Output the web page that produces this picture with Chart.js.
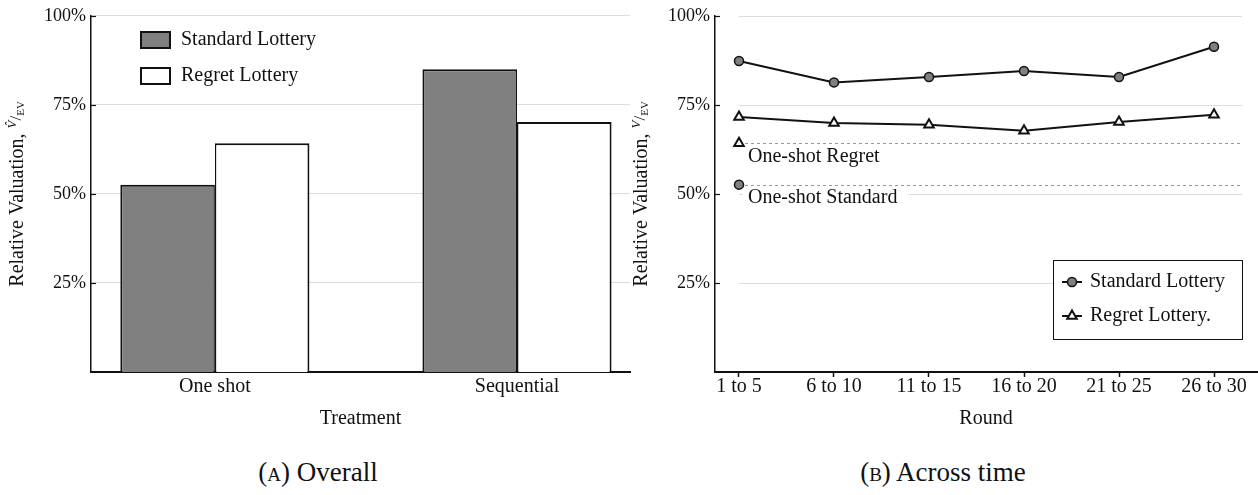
<!DOCTYPE html>
<html>
<head>
<meta charset="utf-8">
<script src="https://cdn.jsdelivr.net/npm/chart.js@4.4.0/dist/chart.umd.min.js"></script>
<style>
  body { margin: 0; background: #fff; width: 1258px; height: 495px; position: relative; overflow: hidden; font-family: "Liberation Serif", "Times New Roman", serif; color: #111; }
  .box { position: absolute; top: 0; height: 440px; }
  #leftBox { left: 0; width: 632px; }
  #rightBox { left: 632px; width: 626px; }
  .cap { position: absolute; top: 458px; font-size: 27px; line-height: 29px; white-space: nowrap; transform: translateX(-50%); }
  .sc { font-variant: small-caps; }
</style>
</head>
<body>
<div id="leftBox" class="box"><canvas id="overallChart"></canvas></div>
<div id="rightBox" class="box"><canvas id="timeChart"></canvas></div>
<div class="cap" style="left:318px"><span class="sc">(a)</span> Overall</div>
<div class="cap" style="left:943px"><span class="sc">(b)</span> Across time</div>
<script>
// data (percent of expected value)
const treatments = ["One shot", "Sequential"];
const overallStandard = [52.6, 85.0];
const overallRegret = [64.2, 70.2];

const rounds = ["1 to 5", "6 to 10", "11 to 15", "16 to 20", "21 to 25", "26 to 30"];
const roundStandard = [87.3, 81.3, 82.8, 84.5, 82.8, 91.3];
const roundRegret = [71.6, 69.9, 69.4, 67.7, 70.2, 72.2];
const oneShotStandard = 52.6;
const oneShotRegret = 64.2;

const yTicks = [25, 50, 75, 100];

const serif = '"Liberation Serif", "Times New Roman", serif';
Chart.defaults.font.family = serif;
Chart.defaults.font.size = 20;
Chart.defaults.color = "#111";

function yAxis(width, showGrid) {
  return {
    type: "linear",
    min: 0,
    max: 100,
    afterFit: (s) => { s.width = width; },
    afterBuildTicks: (s) => { s.ticks = yTicks.map((v) => ({ value: v })); },
    ticks: { padding: 5, font: { size: 18 }, callback: (v) => v + "%" },
    grid: { display: showGrid, color: "#dcdcdc", drawTicks: false },
    border: { color: "#111", width: 1.5 },
  };
}

// y title: "Relative Valuation, V̂/EV" drawn rotated
function drawYTitle(chart, x) {
  const { ctx, chartArea } = chart;
  const cy = (chartArea.top + chartArea.bottom) / 2;
  const parts = [
    { t: "Relative Valuation, ", f: "20px " + serif, dy: 0 },
    { t: "V\u0302", f: "italic 13px " + serif, dy: -5 },
    { t: "/", f: "17px " + serif, dy: -1 },
    { t: "EV", f: "11px " + serif, dy: 3 },
  ];
  ctx.save();
  let total = 0;
  parts.forEach((p) => { ctx.font = p.f; p.w = ctx.measureText(p.t).width; total += p.w; });
  ctx.translate(x, cy);
  ctx.rotate(-Math.PI / 2);
  ctx.fillStyle = "#111";
  ctx.textBaseline = "middle";
  ctx.textAlign = "left";
  let cx = -total / 2;
  parts.forEach((p) => { ctx.font = p.f; ctx.fillText(p.t, cx, p.dy); cx += p.w; });
  ctx.restore();
}

function drawInwardTicks(chart) {
  const { ctx, chartArea, scales } = chart;
  ctx.save();
  ctx.strokeStyle = "#111";
  ctx.lineWidth = 1.2;
  yTicks.forEach((v) => {
    const py = Math.round(scales.y.getPixelForValue(v)) + 0.5;
    ctx.beginPath();
    ctx.moveTo(chartArea.left, py);
    ctx.lineTo(chartArea.left + 5, py);
    ctx.stroke();
  });
  ctx.restore();
}

const overallDecor = {
  id: "overallDecor",
  afterDraw(chart) {
    const { ctx } = chart;
    drawYTitle(chart, 18);
    drawInwardTicks(chart);
    ctx.save();
    ctx.font = "20px " + serif;
    ctx.textBaseline = "middle";
    chart.data.datasets.forEach((ds, i) => {
      const top = 31 + i * 36;
      ctx.fillStyle = ds.backgroundColor;
      ctx.fillRect(140, top, 31, 18);
      ctx.strokeStyle = "#111";
      ctx.lineWidth = 2;
      ctx.strokeRect(141, top + 1, 29, 16);
      ctx.fillStyle = "#111";
      ctx.fillText(ds.label, 181, top + 9);
    });
    ctx.restore();
  },
};

new Chart(document.getElementById("overallChart"), {
  type: "bar",
  data: {
    datasets: [
      {
        label: "Standard Lottery",
        data: overallStandard.map((v, i) => ({ x: i, y: v })),
        backgroundColor: "#808080",
        borderColor: "#111",
        borderWidth: { top: 2, left: 2, right: 1.5, bottom: 0 },
      },
      {
        label: "Regret Lottery",
        data: overallRegret.map((v, i) => ({ x: i, y: v })),
        backgroundColor: "#ffffff",
        borderColor: "#111",
        borderWidth: { top: 2, left: 1.5, right: 2, bottom: 0 },
      },
    ],
  },
  options: {
    responsive: true,
    maintainAspectRatio: false,
    animation: false,
    events: [],
    layout: { autoPadding: false, padding: { top: 13, right: 2, left: 0, bottom: 0 } },
    datasets: { bar: { categoryPercentage: 0.626, barPercentage: 1 } },
    plugins: { legend: { display: false }, tooltip: { enabled: false } },
    scales: {
      x: {
        type: "linear",
        min: -0.41,
        max: 1.374,
        offset: false,
        z: 1,
        afterFit: (s) => { s.height = 68; },
        afterBuildTicks: (s) => { s.ticks = treatments.map((t, i) => ({ value: i })); },
        ticks: { padding: 5, autoSkip: false, maxRotation: 0, font: { size: 20, lineHeight: 1 }, callback: (v) => treatments[v] },
        grid: { display: false, drawTicks: false, offset: false },
        border: { color: "#111", width: 2 },
        title: { display: true, text: "Treatment", font: { size: 20 }, padding: { top: 0, bottom: 9 } },
      },
      y: yAxis(91, true),
    },
  },
  plugins: [overallDecor],
});

const timeDecor = {
  id: "timeDecor",
  beforeDatasetsDraw(chart) {
    const { ctx, chartArea: a, scales: { x, y } } = chart;
    const x0 = x.getPixelForValue(0);
    const x1 = a.right - 15;
    ctx.save();
    // gridlines
    ctx.strokeStyle = "#dcdcdc";
    ctx.lineWidth = 1;
    yTicks.forEach((v) => {
      const py = Math.round(y.getPixelForValue(v)) + 0.5;
      ctx.beginPath(); ctx.moveTo(x0, py); ctx.lineTo(x1, py); ctx.stroke();
    });
    // one-shot reference lines
    ctx.strokeStyle = "#9a9a9a";
    ctx.setLineDash([3, 3]);
    [oneShotRegret, oneShotStandard].forEach((v) => {
      const py = Math.round(y.getPixelForValue(v)) + 0.5;
      ctx.beginPath(); ctx.moveTo(x0, py); ctx.lineTo(x1, py); ctx.stroke();
    });
    ctx.setLineDash([]);
    // labels under the reference lines
    ctx.font = "20px " + serif;
    ctx.textBaseline = "middle";
    [["One-shot Regret", oneShotRegret], ["One-shot Standard", oneShotStandard]].forEach(([t, v]) => {
      const py = y.getPixelForValue(v) + 13;
      const w = ctx.measureText(t).width;
      ctx.fillStyle = "#fff";
      ctx.fillRect(x0 + 4, py - 10, w + 16, 20);
      ctx.fillStyle = "#111";
      ctx.fillText(t, x0 + 9, py);
    });
    ctx.restore();
  },
  afterDraw(chart) {
    const { ctx, chartArea: a } = chart;
    drawYTitle(chart, 10);
    drawInwardTicks(chart);
    // legend box
    const bw = 189, bh = 79;
    const bx = a.right - 15 - bw;
    const by = 260;
    ctx.save();
    ctx.fillStyle = "#fff";
    ctx.fillRect(bx, by, bw, bh);
    ctx.strokeStyle = "#111";
    ctx.lineWidth = 1;
    ctx.strokeRect(Math.round(bx) + 0.5, by + 0.5, bw, bh);
    ctx.font = "20px " + serif;
    ctx.textBaseline = "middle";
    chart.data.datasets.slice(0, 2).forEach((ds, i) => {
      const ly = by + 22 + i * 34;
      ctx.strokeStyle = "#111";
      ctx.lineWidth = 2;
      ctx.beginPath(); ctx.moveTo(bx + 9, ly); ctx.lineTo(bx + 29, ly); ctx.stroke();
      ctx.fillStyle = ds.pointBackgroundColor;
      ctx.lineWidth = ds.pointBorderWidth;
      Chart.helpers.drawPoint(ctx, { pointStyle: ds.pointStyle, radius: ds.pointRadius, borderWidth: ds.pointBorderWidth, rotation: 0 }, bx + 19, ly);
      ctx.fillStyle = "#111";
      ctx.fillText(ds.label, bx + 37, ly);
    });
    ctx.restore();
  },
};

const standardMarker = { pointStyle: "circle", pointRadius: 4.5, pointBackgroundColor: "#808080", pointBorderColor: "#111", pointBorderWidth: 1.5 };
const regretMarker = { pointStyle: "triangle", pointRadius: 5.5, pointBackgroundColor: "#ffffff", pointBorderColor: "#111", pointBorderWidth: 2 };

new Chart(document.getElementById("timeChart"), {
  type: "line",
  data: {
    datasets: [
      Object.assign({
        label: "Standard Lottery",
        data: roundStandard.map((v, i) => ({ x: i, y: v })),
        borderColor: "#111",
        borderWidth: 2,
        tension: 0,
      }, standardMarker),
      Object.assign({
        label: "Regret Lottery.",
        data: roundRegret.map((v, i) => ({ x: i, y: v })),
        borderColor: "#111",
        borderWidth: 2,
        tension: 0,
      }, regretMarker),
      Object.assign({
        label: "One-shot Regret",
        data: [{ x: 0, y: oneShotRegret }],
        showLine: false,
      }, regretMarker),
      Object.assign({
        label: "One-shot Standard",
        data: [{ x: 0, y: oneShotStandard }],
        showLine: false,
      }, standardMarker),
    ],
  },
  options: {
    responsive: true,
    maintainAspectRatio: false,
    animation: false,
    events: [],
    layout: { autoPadding: false, padding: { top: 13, right: 1, left: 0, bottom: 0 } },
    plugins: { legend: { display: false }, tooltip: { enabled: false } },
    scales: {
      x: {
        type: "linear",
        min: -0.2526,
        max: 5.4526,
        offset: false,
        afterFit: (s) => { s.height = 68; },
        afterBuildTicks: (s) => { s.ticks = rounds.map((r, i) => ({ value: i })); },
        ticks: { padding: 0, autoSkip: false, maxRotation: 0, font: { size: 20, lineHeight: 1 }, callback: (v) => rounds[v] },
        grid: { display: true, drawOnChartArea: false, drawTicks: true, tickLength: 5, tickColor: "#111", tickWidth: 1.5, offset: false },
        border: { color: "#111", width: 2 },
        title: { display: true, text: "Round", font: { size: 20 }, padding: { top: 0, bottom: 9 } },
      },
      y: yAxis(83, false),
    },
  },
  plugins: [timeDecor],
});
</script>
</body>
</html>
